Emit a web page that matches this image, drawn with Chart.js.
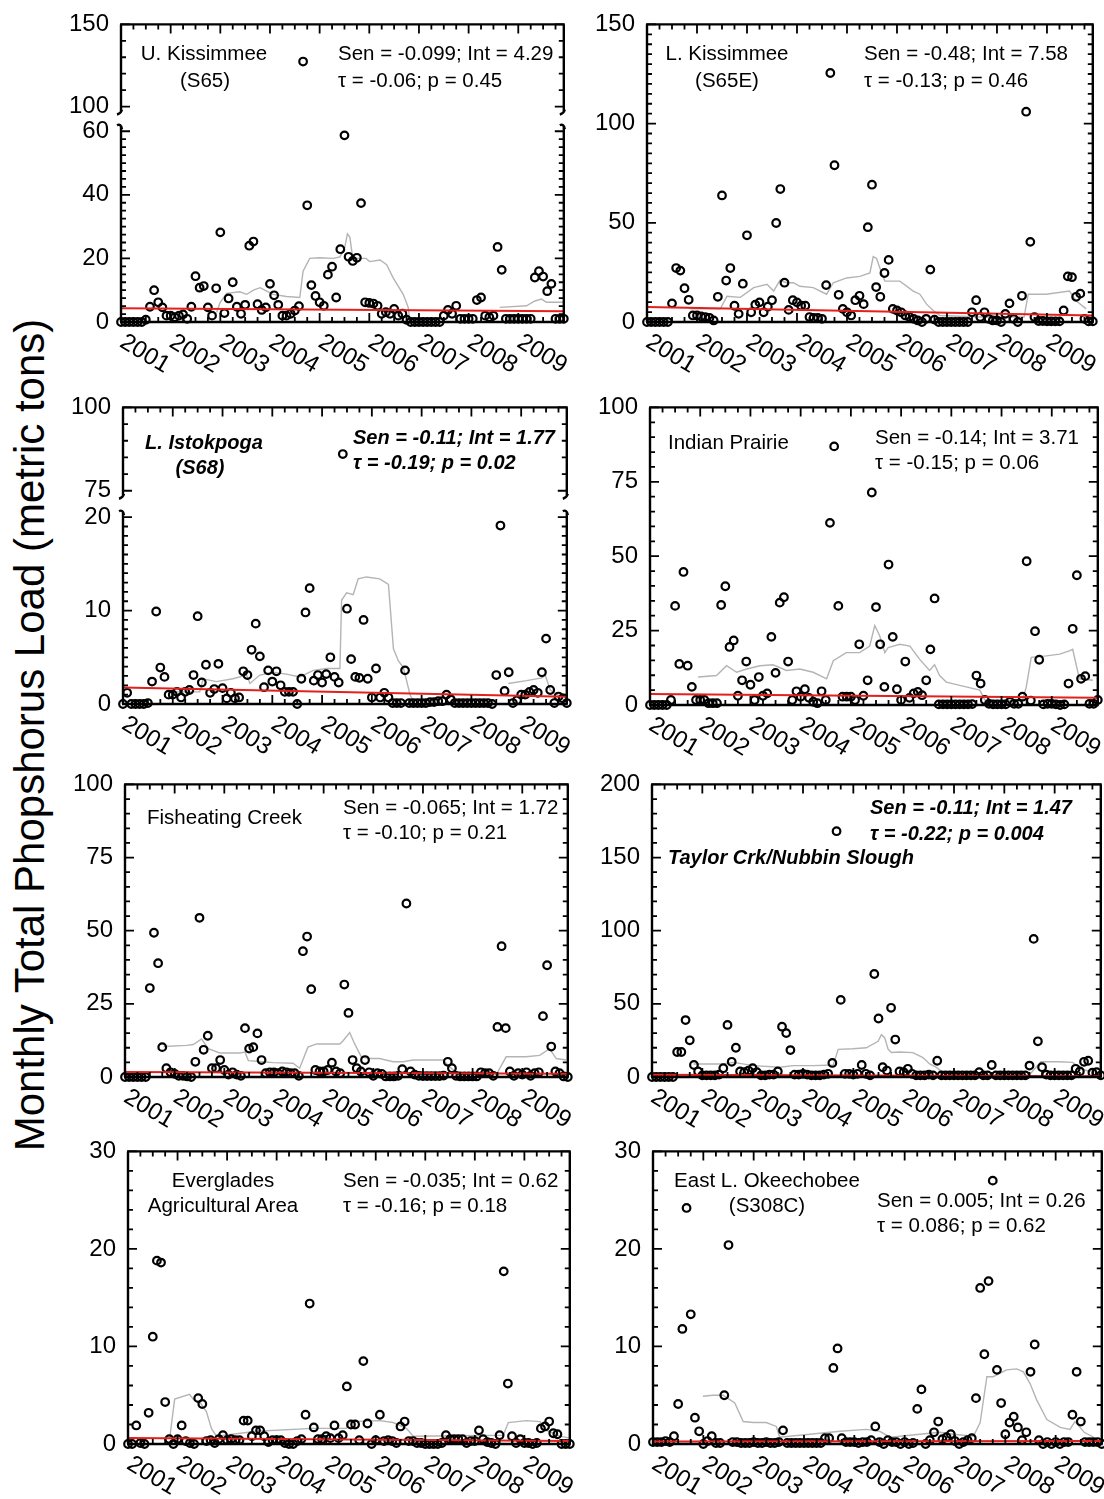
<!DOCTYPE html>
<html>
<head>
<meta charset="utf-8">
<title>Monthly total phosphorus load by basin, 2001-2009</title>
<script src="https://cdn.jsdelivr.net/npm/chart.js@4.4.0/dist/chart.umd.min.js"></script>
<style>
  body { margin: 0; background: #fff; }
  #page { position: relative; width: 1104px; height: 1499px; overflow: hidden;
          font-family: "Liberation Sans", Arial, sans-serif; color: #000; background: #fff; }
  canvas { position: absolute; }
  .note { position: absolute; font-size: 20.5px; line-height: 24px; white-space: nowrap; }
  .c { transform: translateX(-50%); }
  .bi { font-weight: bold; font-style: italic; font-size: 20px; }
  #ytitle { position: absolute; left: 30px; top: 735px; font-size: 42px; line-height: 42px;
            white-space: nowrap; transform: translate(-50%, -50%) rotate(-90deg); }
</style>
</head>
<body>
<div id="page">
  <div id="ytitle">Monthly Total Phopshorus Load (metric tons)</div>
</div>
<script>
// monthly loads, Jan 2001 .. Dec 2009, one row per year
const s65 = [
  0, 0, 0, 0, 0, 0, 0.7, 4.8, 10, 6.2, 4.6, 2,
  2, 1.5, 2, 2.4, 1, 4.8, 14.4, 10.8, 11.3, 4.6, 2, 10.6,
  28.2, 2.8, 7.4, 12.5, 4.8, 2.6, 5.4, 24, 25.3, 5.6, 3.8, 4.6,
  12, 8.4, 5.4, 2, 2, 2.6, 3.6, 5, 127.4, 36.7, 11.6, 8.2,
  6.2, 5.1, 14.9, 17.4, 7.7, 22.9, 58.7, 20.5, 19.2, 20.2, 37.4, 6.2,
  6, 5.8, 5.1, 2.6, 3.1, 2.6, 4.1, 2, 2.6, 0.7, 0, 0,
  0, 0, 0, 0, 0, 0, 2, 3.8, 2.6, 5.1, 1, 1,
  1, 1, 6.9, 7.7, 2, 1.5, 2, 23.6, 16.4, 1, 1, 1,
  1, 1, 1, 1, 14, 16, 14.3, 9.7, 12, 1, 1, 1
];
const s65e = [
  0, 0, 0, 0, 0, 0, 9.4, 27.2, 25.9, 17, 11.2, 3.3,
  3.3, 2.8, 2.5, 2.1, 0.8, 12.7, 63.8, 20.9, 27.2, 8.2, 4.1, 19.3,
  43.7, 4.9, 8.7, 9.9, 4.9, 7.7, 11, 49.9, 67, 19.8, 6.1, 11,
  9.9, 8.2, 8.2, 2.5, 2.1, 2.1, 1.6, 18.6, 125.5, 79, 13.7, 6.6,
  4.9, 3.3, 11, 13.2, 9, 47.8, 69.2, 17.6, 12.7, 24.7, 31.3, 6.6,
  5.8, 4.9, 3.3, 2.5, 1.6, 0.8, 0, 1.6, 26.4, 1.2, 0, 0,
  0, 0, 0, 0, 0, 0, 4.9, 11, 2.5, 4.9, 1.6, 0.8,
  0.8, 0, 4.1, 9.4, 1.6, 0, 13.2, 106, 40.4, 2.5, 0.5, 0.5,
  0.3, 0.3, 0.3, 0.3, 5.8, 23, 22.6, 12.7, 14.3, 1.6, 0.3, 0.3
];
const s68 = [
  0, 1.2, 0, 0, 0, 0, 0.1, 2.4, 9.9, 3.9, 2.9, 1,
  1, 1.3, 0.7, 1.3, 1.5, 3.1, 9.4, 2.3, 4.2, 1.2, 1.6, 4.3,
  1.7, 0.6, 1.2, 0.6, 0.7, 3.5, 3.1, 5.8, 8.6, 5.1, 1.8, 3.6,
  2.4, 3.5, 2, 1.3, 1.3, 1.3, 0, 2.7, 9.8, 12.4, 2.5, 3.1,
  2.3, 3.2, 5, 2.9, 2.3, 86, 10.2, 4.8, 2.9, 2.8, 9, 2.7,
  0.7, 3.8, 0.7, 1.2, 0.7, 0.1, 0.1, 0.1, 3.6, 0.1, 0.1, 0.1,
  0.1, 0.1, 0.2, 0.2, 0.3, 0.3, 1, 0.5, 0.1, 0.1, 0.1, 0.1,
  0.1, 0.1, 0.1, 0.1, 0.1, 0, 3.1, 19.1, 1.4, 3.4, 0.1, 0.4,
  1, 1, 1.3, 1.5, 1.2, 3.4, 7, 1.5, 0.1, 0.8, 0.6, 0.1
];
const indianPrairie = [
  0, 0, 0, 0, 0, 1.7, 33.3, 13.8, 44.7, 13.2, 6.1, 1.7,
  1.7, 1.7, 0.6, 0.6, 0.6, 33.6, 39.9, 19.5, 21.7, 3.1, 8.3, 14.6,
  6.8, 1.7, 9.4, 3.1, 3.9, 22.9, 10.8, 34.4, 36.2, 14.6, 1.7, 4.6,
  2.8, 5.3, 2.4, 1.1, 0.6, 4.6, 1.7, 61.2, 86.9, 33.3, 2.8, 2.8,
  2.8, 1.7, 20.4, 3.1, 8.3, 71.4, 32.9, 20.4, 6.1, 47.2, 22.9, 5.3,
  1.7, 14.6, 2.4, 3.9, 4.4, 3.3, 8.3, 18.7, 35.8, 0.2, 0.2, 0.2,
  0.2, 0.2, 0.2, 0.2, 0.2, 0.3, 9.9, 7.2, 1.7, 0.4, 0.2, 0.2,
  0.2, 0.2, 1.1, 0.4, 0.4, 2.8, 48.3, 1.5, 24.8, 15.2, 0.2, 0.4,
  0.4, 0.2, 0, 0.2, 7.2, 25.6, 43.6, 8.8, 9.7, 0.4, 0.4, 1.7
];
const fisheatingCreek = [
  0, 0, 0, 0, 0, 0, 30.4, 49.3, 38.9, 10.2, 3, 1.6,
  1.1, 0.4, 0.4, 0.2, 0, 5.2, 54.4, 9.3, 14.1, 3, 3, 5.8,
  2.4, 0.8, 1.6, 0.8, 0.4, 16.7, 9.7, 10.2, 14.9, 5.8, 1.3, 1.6,
  1.6, 1.3, 1.9, 1.6, 1.3, 1.3, 0.4, 43, 48, 30, 2.4, 1.9,
  1.9, 2.4, 4.9, 1.9, 1.3, 31.6, 21.9, 5.8, 3, 1.9, 5.8, 1.6,
  0.4, 1.3, 1.1, 0.2, 0.2, 0.2, 0.4, 2.7, 59.3, 1.9, 0.8, 0.4,
  0.3, 0.3, 0.3, 0.3, 0.3, 0.5, 5.2, 3, 0.4, 0.2, 0.2, 0.2,
  0.2, 0.2, 1.6, 1.3, 1.3, 0.4, 17.1, 44.7, 16.7, 1.9, 0.4, 1.3,
  0.8, 1.6, 0.4, 1.3, 1.6, 20.8, 38.2, 10.4, 1.9, 1.3, 0.2, 0
];
const taylorCreek = [
  0, 0, 0, 0, 0, 0, 17.1, 17.1, 38.9, 25.1, 8.2, 3.8,
  1.1, 1.1, 1.1, 1.1, 1.6, 6, 35.6, 10.4, 20, 3.8, 3.3, 4.4,
  6, 3.3, 1.1, 1.1, 1.6, 1.6, 3.8, 34.4, 30, 18.4, 1.6, 1.6,
  2.2, 1.6, 1.1, 1.1, 1.1, 1.6, 2.2, 9.6, 168, 52.7, 2.2, 2.2,
  1.6, 2.2, 8.2, 2.2, 1.1, 70.4, 40, 6.7, 4.4, 47.3, 25.6, 3.8,
  3.3, 5.6, 2.2, 1.1, 1.1, 1.1, 1.6, 1.1, 11.1, 1.1, 1.1, 1.1,
  1.1, 1.1, 1.1, 1.1, 1.1, 1.1, 3.3, 1.1, 1.1, 8.2, 1.1, 1.1,
  1.1, 1.1, 1.1, 1.1, 1.1, 1.1, 7.8, 94.4, 24.4, 6.7, 1.6, 1.1,
  1.1, 1.1, 1.1, 1.1, 1.1, 5.6, 3.8, 10.4, 11.1, 2.9, 3.3, 1.1
];
const evergladesAg = [
  0, 0, 1.9, 0.1, 0, 3.2, 11, 18.8, 18.6, 4.3, 0.5, 0,
  0.5, 1.9, 0.3, 0.1, 0, 4.7, 4.1, 0.3, 0.4, 0.1, 0.5, 0.9,
  0.4, 0.5, 0.4, 0.4, 2.4, 2.4, 0.8, 1.4, 1.4, 0.8, 0.2, 0.4,
  0.4, 0.4, 0.1, 0, 0, 0.3, 0.5, 3, 14.4, 1.7, 0.5, 0.5,
  0.8, 0.6, 1.9, 0.6, 0.9, 5.9, 2, 2, 0.4, 8.5, 2.1, 0,
  0.4, 3, 0.3, 0.4, 0.3, 0.1, 1.8, 2.3, 0.3, 0.3, 0.1, 0.1,
  0, 0, 0, 0, 0.1, 0.9, 0.5, 0.5, 0.5, 0.5, 0.1, 0.3,
  0.3, 1.4, 0.5, 0.2, 0.1, 0, 0.9, 17.7, 6.2, 0.8, 0.1, 0.5,
  0.1, 0.1, 0, 0.1, 1.6, 1.8, 2.3, 1.1, 1, 0, 0, 0
];
const s308c = [
  0.2, 0.2, 0.2, 0.3, 0.2, 0.8, 4.1, 11.8, 24.2, 13.3, 2.7, 1.3,
  0, 0.3, 0.8, 0.1, 0.1, 5, 20.4, 0.2, 0.2, 0.1, 0.1, 0.1,
  0.2, 0.1, 0.1, 0.2, 0.1, 0.1, 0.2, 1.4, 0.1, 0.1, 0.1, 0.1,
  0.1, 0.1, 0.1, 0.1, 0.1, 0.6, 0.6, 7.8, 9.8, 0.6, 0.2, 0.2,
  0.2, 0.1, 0.2, 0.2, 0.4, 1.8, 0.2, 0, 0.4, 0.2, 0.2, 0,
  0.2, 0, 0.1, 3.6, 5.6, 0, 0.4, 1.2, 2.3, 0.5, 0.7, 1,
  0.3, 0, 0.2, 0.4, 0.6, 4.7, 16, 9.2, 16.7, 27, 7.6, 4.2,
  1, 2.2, 2.8, 1.7, 0.4, 1.2, 7.4, 10.2, 0.4, 0, 0.2, 0,
  0.2, 0, 0.2, 0.2, 3, 7.4, 2.3, 0.2, 0.2, 0.2, 0.2, 0
];

// running average traces as [month, load]; null breaks the line
const s65Avg = [[23.1, 3], [23.9, 6], [25.5, 9], [28.7, 9.5], [30.4, 8.7], [32, 10], [33.6, 10.8],
  [35.2, 9.7], [36.8, 8.7], [40, 8], [43.2, 7.7], [44, 16], [45.6, 20], [48, 20.2], [51.3, 20],
  [52.9, 20.5], [54.1, 23.6], [54.7, 27.7], [55.3, 26.7], [56, 20], [57.7, 20], [59.2, 20],
  [60.1, 19], [62.6, 19.5], [64.2, 18], [65.8, 13.8], [68.2, 8.7], [69.4, 4.6], [69.8, 0.5],
  [70, null], [91.5, 4.6], [98, 5.1], [100, 6.6], [101.6, 7.2], [102.8, 6.2], [106.8, 6.2]];
const s65eAvg = [[10.4, 6.6], [17.6, 6.6], [19.2, 13], [22.4, 12.4], [25.6, 17.3], [28.8, 19],
  [30.4, 15.6], [31.9, 21], [33.5, 19.8], [35.1, 19.8], [36.7, 18], [39.9, 17.3], [43.1, 14],
  [44.7, 19.8], [47.9, 22.2], [51.1, 23], [53.5, 24.7], [54.3, 33], [55.1, 32], [56.3, 24.7],
  [57.1, 20.6], [60.7, 20.6], [63.9, 15.6], [65.5, 14], [67.1, 9], [68.7, 5.8], [70.3, 3.3],
  [80, 2.5], [90.5, 2.5], [91.5, 14], [95.8, 14], [101.4, 15.6], [103, 10.7], [105.4, 6.6]];
const s68Avg = [[11.3, 1.3], [18.5, 1.3], [19.3, 2.7], [22.5, 2.4], [26.5, 2.7], [29.8, 3.1],
  [30.6, 2.2], [33, 3.1], [36.2, 3.4], [39.4, 3.2], [42.6, 2.9], [45.9, 3.6], [49.1, 3.8],
  [52.3, 3.8], [52.7, 11.1], [53.9, 11.9], [55.5, 11.7], [56.7, 13.4], [58.7, 13.6], [61.9, 13.4],
  [64, 12.8], [65.2, 5.9], [66.4, 4.6], [67.6, 3.9], [69.2, 1], [70, 0.3], [71, null],
  [92.9, 2.2], [97.3, 2.5], [101, 2.8], [101.8, 3.1], [103, 1.5], [105.4, 0.8]];
const indianPrairieAvg = [[11.5, 9.4], [15.9, 9.9], [18.3, 13.2], [20.7, 11], [23.1, 12.1],
  [26.3, 13.2], [29.4, 13.5], [32.6, 11.6], [35.8, 12.1], [39, 11], [42.2, 8.8], [43.8, 14.9],
  [46.9, 17.6], [50.1, 17.6], [52.5, 19.8], [53.7, 26.7], [54.9, 23.2], [56.1, 17.6], [56.9, 19.3],
  [59.7, 20.4], [62.1, 19.8], [64.4, 15.4], [66.8, 11.6], [68, 13.5], [69.2, 9.9], [70.8, 7.7],
  [74, 6.6], [78.8, 5], [80, 1.7], [89, 1.5], [89.9, 6], [91.1, 16], [94.7, 16.5], [97.9, 17.1],
  [100.2, 18.2], [101, 18.7], [102.6, 8.8], [105.8, 8.3]];
const fisheatingAvg = [[9.3, 10.4], [14.9, 10.8], [16.5, 11.1], [18.5, 13], [20.1, 9.7],
  [22.9, 8.2], [27.8, 8.2], [29, 8.5], [29.8, 5.6], [33.4, 5.2], [35.8, 4.9], [40.6, 4.7],
  [42.2, 3], [44.2, 10.2], [46.3, 11.3], [51.9, 11.3], [52.7, 12.4], [54.3, 15.2], [55.5, 11.3],
  [57.1, 6.9], [59.1, 6.3], [61.5, 6.3], [64.8, 5.2], [67.2, 5.2], [69.6, 5.8], [72.8, 5.8],
  [76.8, 5.8], [78.4, 3.6], [80, 1.5], [90, 1.5], [92.1, 6.9], [96.9, 6.9], [100.2, 7.4],
  [102.6, 9.7], [104.2, 6.3], [106.6, 5.8]];
const taylorAvg = [[9.9, 8.9], [17, 8.9], [19.4, 10], [24.2, 7.8], [30.5, 6.7], [33.7, 7.8],
  [38.4, 7.8], [43.2, 8.2], [44.4, 18.9], [47.9, 19.3], [51.1, 20], [53.9, 24.4], [54.7, 28.9],
  [55.5, 26.7], [56.3, 18.9], [57.1, 16.7], [59, 17.1], [62.2, 16.7], [64.6, 13.3], [66.2, 8.9],
  [67.7, 6.7], [69.3, 3.3], [72, 1.5], [90, 1.5], [92.7, 10.4], [97.1, 10.4], [100.3, 10],
  [101.9, 6.7], [103.5, 4.4], [107, 3]];
const evergladesAvg = [[10.1, 0.6], [11.3, 4.6], [14.9, 5.1], [15.8, 4.6], [17.4, 4.3], [19, 3.3],
  [20.2, 1.6], [21.4, 0.8], [31.1, 1.3], [44.8, 1.6], [52.9, 1.6], [53.7, 2.3], [61, 2.4],
  [64.2, 2.2], [67.4, 1.6], [69.1, 0.8], [90.9, 0.9], [92.1, 2.2], [96.5, 2.4], [99.8, 2.3],
  [101.4, 1.4], [104.6, 0.8], [107, 0.6]];
const s308cAvg = [[11.9, 4.9], [14.3, 5], [16.7, 5], [19.5, 4.2], [21.5, 2.3], [23.9, 2.2],
  [27, 2.2], [29.4, 1.8], [30.2, 0.7], [44.6, 1.3], [50.9, 1.5], [54.1, 1.3], [56.5, 0.7],
  [68.4, 1.2], [71.6, 1], [76.4, 0.8], [78, 2.2], [79.6, 6.9], [81.1, 6.9], [84.3, 7.6],
  [86.7, 7.7], [88.3, 7.4], [89.9, 6.2], [91.5, 4.5], [93.9, 2.5], [97.1, 1.7], [99.4, 1.5],
  [100.6, 2.3], [102.8, 1.2], [105, 0.7]];

// Sen slope (per year) and intercept, Mann-Kendall tau and p, panel order
const senSlope = [-0.099, -0.48, -0.11, -0.14, -0.065, -0.11, -0.035, 0.005];
const intercept = [4.29, 7.58, 1.77, 3.71, 1.72, 1.47, 0.62, 0.26];
const kendallTau = ['-0.06', '-0.13', '-0.19', '-0.15', '-0.10', '-0.22', '-0.16', '0.086'];
const pValue = ['0.45', '0.46', '0.02', '0.06', '0.21', '0.004', '0.18', '0.62'];
const yearLabels = ['2001', '2002', '2003', '2004', '2005', '2006', '2007', '2008', '2009'];
const lastMonth = 107;

// box = plot frame [left, top, width, height] on the page
const panels = [
  { series: s65, avg: s65Avg, box: [121, 18, 443, 304], max: 150,
    yTicks: [0, 20, 40, 60, 100, 150], minor: [[0, 60, 2.5], [100, 150, 10]],
    brk: { lo: 60, hi: 100, lowFrac: 0.641, gapFrac: 0.083 },
    names: [['U. Kissimmee', 204, 53, true], ['(S65)', 205, 80, true]], stats: [338, 53, 80] },
  { series: s65e, avg: s65eAvg, box: [647, 18, 446, 304], max: 150,
    yTicks: [0, 50, 100, 150], minor: [[0, 150, 5]],
    names: [['L. Kissimmee', 727, 53, true], ['(S65E)', 727, 80, true]], stats: [864, 53, 80] },
  { series: s68, avg: s68Avg, box: [123, 401, 444, 303], max: 100,
    yTicks: [0, 10, 20, 75, 100], minor: [[0, 20, 1], [75, 100, 5]],
    brk: { lo: 20, hi: 75, lowFrac: 0.630, gapFrac: 0.089 }, bold: true,
    names: [['L. Istokpoga', 204, 442, true], ['(S68)', 200, 467, true]], stats: [353, 437, 462] },
  { series: indianPrairie, avg: indianPrairieAvg, box: [650, 401, 448, 304], max: 100,
    yTicks: [0, 25, 50, 75, 100], minor: [[0, 100, 5]],
    names: [['Indian Prairie', 668, 442, false]], stats: [875, 437, 462] },
  { series: fisheatingCreek, avg: fisheatingAvg, box: [125, 778, 443, 299], max: 100,
    yTicks: [0, 25, 50, 75, 100], minor: [[0, 100, 5]],
    names: [['Fisheating Creek', 147, 817, false]], stats: [343, 807, 832] },
  { series: taylorCreek, avg: taylorAvg, box: [652, 778, 449, 299], max: 200,
    yTicks: [0, 50, 100, 150, 200], minor: [[0, 200, 10]], bold: true,
    names: [['Taylor Crk/Nubbin Slough', 668, 857, false]], stats: [870, 807, 833] },
  { series: evergladesAg, avg: evergladesAvg, box: [128, 1145, 442, 299], max: 30,
    yTicks: [0, 10, 20, 30], minor: [[0, 30, 2]],
    names: [['Everglades', 223, 1180, true], ['Agricultural Area', 223, 1205, true]], stats: [343, 1180, 1205] },
  { series: s308c, avg: s308cAvg, box: [653, 1145, 449, 299], max: 30,
    yTicks: [0, 10, 20, 30], minor: [[0, 30, 2]],
    names: [['East L. Okeechobee', 767, 1180, true], ['(S308C)', 767, 1205, true]], stats: [877, 1200, 1225] }
];

Chart.defaults.font.family = '"Liberation Sans", Arial, sans-serif';
Chart.defaults.color = '#000';

// linear scale with a compressed stretch between brk.lo and brk.hi
const LinearScale = Chart.LinearScale || Chart.registry.getScale('linear');
class BrokenLinearScale extends LinearScale {
  brokenDecimal(v) {
    const b = this.options.brk;
    if (v <= b.lo) return (v - this.min) / (b.lo - this.min) * b.lowFrac;
    if (v < b.hi) return b.lowFrac + (v - b.lo) / (b.hi - b.lo) * b.gapFrac;
    return b.lowFrac + b.gapFrac + (v - b.hi) / (this.max - b.hi) * (1 - b.lowFrac - b.gapFrac);
  }
  getPixelForValue(value) {
    if (value === null || value === undefined || isNaN(value)) return NaN;
    return this.getPixelForDecimal(this.brokenDecimal(value));
  }
  getValueForPixel(pixel) {
    const b = this.options.brk;
    const d = this.getDecimalForPixel(pixel);
    if (d <= b.lowFrac) return this.min + d / b.lowFrac * (b.lo - this.min);
    if (d < b.lowFrac + b.gapFrac) return b.lo + (d - b.lowFrac) / b.gapFrac * (b.hi - b.lo);
    return b.hi + (d - b.lowFrac - b.gapFrac) / (1 - b.lowFrac - b.gapFrac) * (this.max - b.hi);
  }
}
BrokenLinearScale.id = 'brokenLinear';
BrokenLinearScale.defaults = LinearScale.defaults;
Chart.register(BrokenLinearScale);

// frame, inward ticks on all four sides, axis break marks and slanted year labels
function makeDecor(p) {
  return {
    id: 'decor',
    afterDraw(chart) {
      const { ctx, chartArea: a } = chart;
      const x = chart.scales.x, y = chart.scales.y;
      ctx.save();
      ctx.strokeStyle = '#000';
      ctx.lineWidth = 2.4;
      ctx.beginPath();
      ctx.moveTo(a.left - 1, a.top); ctx.lineTo(a.right + 1, a.top);
      ctx.moveTo(a.left - 1, a.bottom); ctx.lineTo(a.right + 1, a.bottom);
      if (p.brk) {
        const gTop = y.getPixelForValue(p.brk.hi) + 5;
        const gBot = y.getPixelForValue(p.brk.lo) - 5;
        for (const xx of [a.left, a.right]) {
          ctx.moveTo(xx, a.top); ctx.lineTo(xx, gTop);
          ctx.moveTo(xx, gBot); ctx.lineTo(xx, a.bottom);
          ctx.moveTo(xx - 4, gTop + 3); ctx.quadraticCurveTo(xx, gTop + 2, xx + 1, gTop - 2);
          ctx.moveTo(xx - 4, gBot - 1); ctx.quadraticCurveTo(xx, gBot - 3, xx + 1, gBot + 3);
        }
      } else {
        ctx.moveTo(a.left, a.top); ctx.lineTo(a.left, a.bottom);
        ctx.moveTo(a.right, a.top); ctx.lineTo(a.right, a.bottom);
      }
      ctx.stroke();

      ctx.lineWidth = 1.8;
      ctx.beginPath();
      for (let m = 0; m <= lastMonth; m += 3) {
        const px = x.getPixelForValue(m);
        const len = m % 12 === 0 ? 9 : 5;
        ctx.moveTo(px, a.bottom); ctx.lineTo(px, a.bottom - len);
        ctx.moveTo(px, a.top); ctx.lineTo(px, a.top + len);
      }
      for (const [from, to, step] of p.minor) {
        for (let v = from; v <= to + 1e-9; v += step) {
          const py = y.getPixelForValue(v);
          const len = p.yTicks.includes(v) ? 9 : 5;
          ctx.moveTo(a.left, py); ctx.lineTo(a.left + len, py);
          ctx.moveTo(a.right, py); ctx.lineTo(a.right - len, py);
        }
      }
      ctx.stroke();

      ctx.fillStyle = '#000';
      ctx.font = '24px "Liberation Sans", Arial, sans-serif';
      ctx.textAlign = 'left';
      ctx.textBaseline = 'top';
      yearLabels.forEach((label, i) => {
        const px = x.getPixelForValue(i * 12);
        ctx.save();
        ctx.translate(px + 7, a.bottom + 8);
        ctx.rotate(31 * Math.PI / 180);
        ctx.fillText(label, 0, 0);
        ctx.restore();
      });
      ctx.restore();
    }
  };
}

const page = document.getElementById('page');

function addNote(text, left, mid, centered, bold) {
  const d = document.createElement('div');
  d.className = 'note' + (centered ? ' c' : '') + (bold ? ' bi' : '');
  d.textContent = text;
  d.style.left = left + 'px';
  d.style.top = (mid - 12) + 'px';
  page.appendChild(d);
}

panels.forEach((p, i) => {
  const [fx, fy, fw, fh] = p.box;
  const canvas = document.createElement('canvas');
  canvas.width = fw + 86;
  canvas.height = fh + 80;
  canvas.style.left = (fx - 80) + 'px';
  canvas.style.top = (fy - 20) + 'px';
  page.appendChild(canvas);

  const points = p.series.map((v, m) => ({ x: m, y: v }));
  const avg = p.avg.map(([m, v]) => ({ x: m, y: v }));
  const trend = [
    { x: 0, y: intercept[i] },
    { x: lastMonth, y: intercept[i] + senSlope[i] * lastMonth / 12 }
  ];

  new Chart(canvas, {
    type: 'scatter',
    data: {
      datasets: [
        { data: trend, showLine: true, borderColor: '#e3201c', borderWidth: 2,
          pointRadius: 0, order: 0 },
        { data: points, pointRadius: 3.8, pointBorderWidth: 2.2, pointBorderColor: '#000',
          pointBackgroundColor: 'rgba(0,0,0,0)', clip: false, order: 1 },
        { data: avg, showLine: true, borderColor: '#b4b4b4', borderWidth: 1.4,
          pointRadius: 0, spanGaps: false, order: 2 }
      ]
    },
    options: {
      responsive: false,
      animation: false,
      events: [],
      layout: { padding: { top: 20, right: 6, bottom: 60, left: 0 } },
      plugins: { legend: { display: false }, tooltip: { enabled: false } },
      scales: {
        x: { type: 'linear', min: 0, max: lastMonth, display: false },
        y: {
          type: p.brk ? 'brokenLinear' : 'linear',
          brk: p.brk,
          min: 0,
          max: p.max,
          afterFit: s => { s.width = 80; },
          afterBuildTicks: s => { s.ticks = p.yTicks.map(v => ({ value: v })); },
          grid: { display: false, drawTicks: false },
          border: { display: false },
          ticks: { autoSkip: false, padding: 12, color: '#000', font: { size: 24 },
                   callback: v => String(v) }
        }
      }
    },
    plugins: [makeDecor(p)]
  });

  p.names.forEach(([text, left, mid, centered]) => addNote(text, left, mid, centered, p.bold));
  const [sx, y1, y2] = p.stats;
  addNote(`Sen = ${senSlope[i]}; Int = ${intercept[i]}`, sx, y1, false, p.bold);
  addNote(`τ = ${kendallTau[i]}; p = ${pValue[i]}`, sx, y2, false, p.bold);
});
</script>
</body>
</html>
